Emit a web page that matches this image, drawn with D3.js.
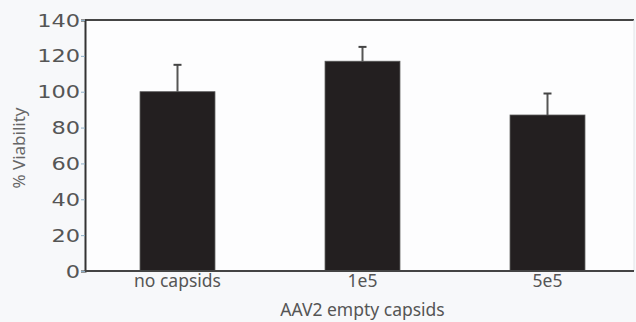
<!DOCTYPE html>
<html>
<head>
<meta charset="utf-8">
<script src="https://cdn.jsdelivr.net/npm/d3@7"></script>
<style>
  body { margin: 0; background: #f7f8fa; }
  svg { display: block; }
</style>
</head>
<body>
<script>
// data
let categories = ["no capsids", "1e5", "5e5"];
let viability = [100, 117, 87];
let errorTop = [115, 125, 99];
let yTicks = [0, 20, 40, 60, 80, 100, 120, 140];

let margin = {top: 20, right: 2, bottom: 51, left: 85},
    width = 636 - margin.left - margin.right,
    height = 322 - margin.top - margin.bottom;

let svg = d3.select("body").append("svg")
    .attr("width", 636)
    .attr("height", 322);

let g = svg.append("g")
    .attr("transform", "translate(" + margin.left + "," + margin.top + ")");

// white plot area
g.append("rect")
    .attr("width", width)
    .attr("height", height)
    .attr("fill", "#fdfdfe");

let x = d3.scaleBand()
    .domain(categories)
    .range([0, 555])
    .paddingInner(0.595)
    .paddingOuter(0.2975);

let y = d3.scaleLinear().domain([0, 140]).range([height, 0]);

let rows = categories.map(function (c, i) {
    return {cat: c, val: viability[i], err: errorTop[i]};
});

// error bars (upper only)
let eb = g.selectAll(".err").data(rows).enter().append("g");
eb.append("line")
    .attr("x1", d => x(d.cat) + x.bandwidth() / 2)
    .attr("x2", d => x(d.cat) + x.bandwidth() / 2)
    .attr("y1", d => y(d.val))
    .attr("y2", d => y(d.err))
    .attr("stroke", "#555")
    .attr("stroke-width", 2);
eb.append("line")
    .attr("x1", d => x(d.cat) + x.bandwidth() / 2 - 4)
    .attr("x2", d => x(d.cat) + x.bandwidth() / 2 + 4)
    .attr("y1", d => y(d.err))
    .attr("y2", d => y(d.err))
    .attr("stroke", "#444")
    .attr("stroke-width", 2);

// bars
g.selectAll(".bar").data(rows).enter().append("rect")
    .attr("x", d => x(d.cat))
    .attr("y", d => y(d.val))
    .attr("width", x.bandwidth())
    .attr("height", d => height - y(d.val))
    .attr("fill", "#231f20")
    .attr("stroke", "#555")
    .attr("stroke-width", 0.8);

// frame: top and faint right edge
g.append("line")
    .attr("x1", 0).attr("x2", width)
    .attr("y1", 0).attr("y2", 0)
    .attr("stroke", "#444").attr("stroke-width", 2);
g.append("line")
    .attr("x1", width).attr("x2", width)
    .attr("y1", 0).attr("y2", height)
    .attr("stroke", "#e2e4e8").attr("stroke-width", 1);

// y axis
let yAxis = g.append("g")
    .call(d3.axisLeft(y).tickValues(yTicks).tickSize(4).tickPadding(1));
yAxis.select(".domain").attr("stroke", "#333").attr("stroke-width", 2);
yAxis.selectAll(".tick line").attr("stroke", "#8fb0c8");
yAxis.selectAll(".tick text")
    .attr("fill", "#555")
    .attr("dy", "0.36em")
    .style("font-family", "DejaVu Sans")
    .style("font-size", "17px")
    .each(function () {
        // the original digits are drawn wider than any installed font
        let len = this.getComputedTextLength();
        d3.select(this).attr("textLength", len * 1.32)
            .attr("lengthAdjust", "spacingAndGlyphs");
    });

// x axis
let xAxis = g.append("g")
    .attr("transform", "translate(0," + height + ")")
    .call(d3.axisBottom(x).tickSize(0).tickPadding(4));
xAxis.select(".domain").attr("stroke", "#444").attr("stroke-width", 2)
    .attr("d", "M0,0H" + width);
xAxis.selectAll(".tick text")
    .attr("fill", "#555")
    .style("font-family", "Noto Sans")
    .style("font-size", "17.5px");

// axis titles
svg.append("text")
    .attr("transform", "translate(25,148) rotate(-90)")
    .style("text-anchor", "middle")
    .style("font-family", "Noto Sans")
    .style("font-size", "17px")
    .attr("fill", "#666")
    .text("% Viability");

svg.append("text")
    .attr("x", margin.left + x("1e5") + x.bandwidth() / 2)
    .attr("y", 316)
    .style("text-anchor", "middle")
    .style("font-family", "Noto Sans")
    .style("font-size", "17.5px")
    .attr("fill", "#555")
    .text("AAV2 empty capsids");
</script>
</body>
</html>
